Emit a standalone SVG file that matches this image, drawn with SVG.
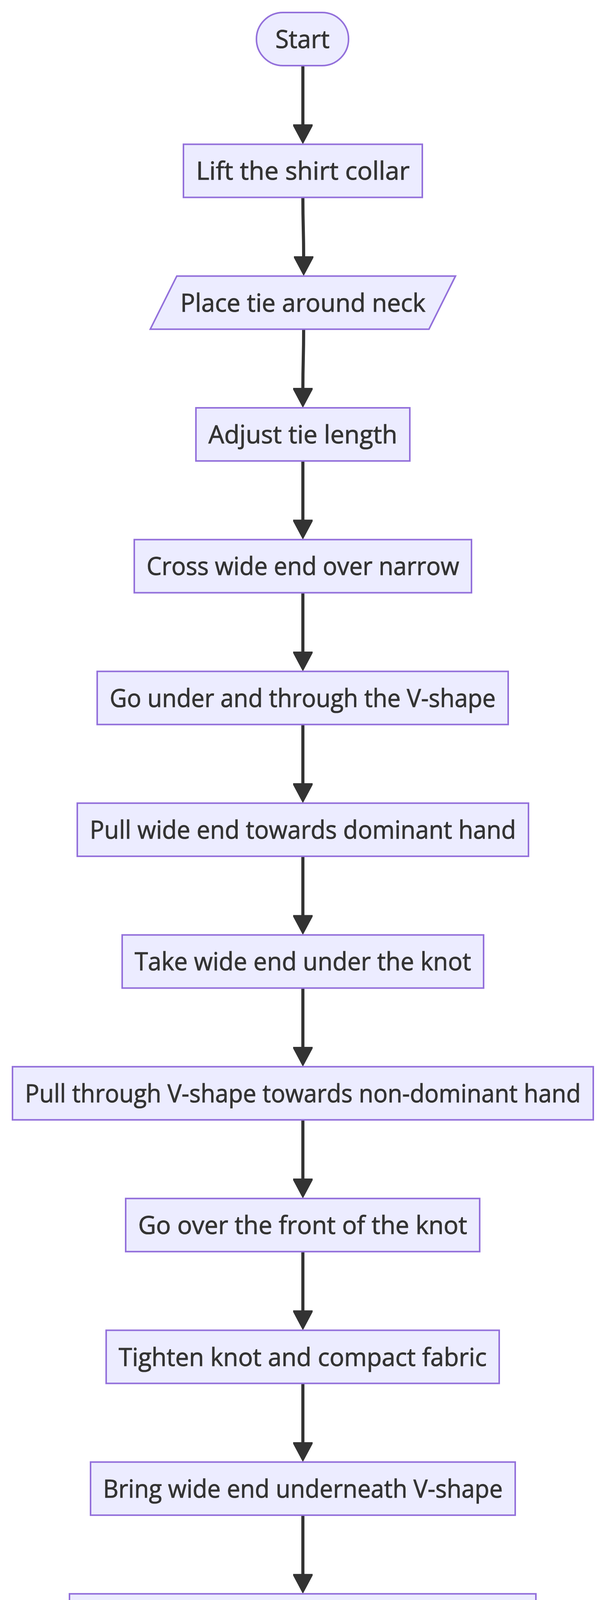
<svg xmlns="http://www.w3.org/2000/svg" width="1568" height="6678" viewBox="0 0 1568 6678">
<style>
.node rect, .node polygon { fill: #ECECFF; stroke: #9370DB; stroke-width: 4; }
.node text { font-family: "Open Sans", "Liberation Sans", sans-serif; font-size: 64px; fill: #333333; stroke: #333333; stroke-width: 1.1; text-anchor: middle; }
.edge { fill: none; stroke: #333333; stroke-width: 8; }
</style>
<defs>
<marker id="arrow" markerUnits="userSpaceOnUse" markerWidth="52" markerHeight="52" viewBox="0 0 50 48" refX="1" refY="24" orient="auto">
<path d="M0,0 L4,0 L49,24 L4,48 L0,48 z" fill="#333333"/>
</marker>
</defs>
<rect x="0" y="0" width="1568" height="6678" fill="#ffffff"/>
<g id="connectors">
<path class="edge" marker-end="url(#arrow)" d="M776,168 L776,319.4"/>
<path class="edge" marker-end="url(#arrow)" d="M776,505.4 C776,585 778,585 778,656.7"/>
<path class="edge" marker-end="url(#arrow)" d="M778,842.7 C778,920 776,920 776,994.05"/>
<path class="edge" marker-end="url(#arrow)" d="M776,1180.05 L776,1331.4"/>
<path class="edge" marker-end="url(#arrow)" d="M776,1517.4 L776,1668.75"/>
<path class="edge" marker-end="url(#arrow)" d="M776,1854.75 L776,2006.1"/>
<path class="edge" marker-end="url(#arrow)" d="M776,2192.1 L776,2343.45"/>
<path class="edge" marker-end="url(#arrow)" d="M776,2529.45 L776,2680.8"/>
<path class="edge" marker-end="url(#arrow)" d="M776,2866.8 L776,3018.15"/>
<path class="edge" marker-end="url(#arrow)" d="M776,3204.15 L776,3355.5"/>
<path class="edge" marker-end="url(#arrow)" d="M776,3541.5 L776,3692.85"/>
<path class="edge" marker-end="url(#arrow)" d="M776,3878.85 L776,4030.2"/>
<path class="edge" marker-end="url(#arrow)" d="M776,4216.2 L776,4367.55"/>
<path class="edge" marker-end="url(#arrow)" d="M776,4553.55 L776,4704.9"/>
<path class="edge" marker-end="url(#arrow)" d="M776,4890.9 L776,5042.25"/>
<path class="edge" marker-end="url(#arrow)" d="M776,5228.25 L776,5379.6"/>
<path class="edge" marker-end="url(#arrow)" d="M776,5565.6 L776,5716.95"/>
<path class="edge" marker-end="url(#arrow)" d="M776,5902.95 C776,5985 778,5985 778,6054.3"/>
<path class="edge" marker-end="url(#arrow)" d="M778,6240.3 C778,6320 776,6320 776,6391.65"/>
</g>
<g id="node-start" class="node">
<rect x="657" y="32" width="236" height="136" rx="68" ry="68"/>
<text x="775" y="123" textLength="139" lengthAdjust="spacingAndGlyphs">Start</text>
</g>
<g id="node-lift" class="node">
<rect x="470" y="369.35" width="612" height="136"/>
<text x="776" y="460.35" textLength="547" lengthAdjust="spacingAndGlyphs">Lift the shirt collar</text>
</g>
<g id="node-place" class="node">
<polygon points="453,706.7 1167,706.7 1099,842.7 385,842.7"/>
<text x="776" y="797.7" textLength="628" lengthAdjust="spacingAndGlyphs">Place tie around neck</text>
</g>
<g id="node-adjust-length" class="node">
<rect x="502" y="1044.05" width="548" height="136"/>
<text x="776" y="1135.05" textLength="484" lengthAdjust="spacingAndGlyphs">Adjust tie length</text>
</g>
<g id="node-cross" class="node">
<rect x="344" y="1381.4" width="864" height="136"/>
<text x="776" y="1472.4" textLength="801" lengthAdjust="spacingAndGlyphs">Cross wide end over narrow</text>
</g>
<g id="node-go-under" class="node">
<rect x="249" y="1718.75" width="1053" height="136"/>
<text x="775.5" y="1809.75" textLength="989" lengthAdjust="spacingAndGlyphs">Go under and through the V-shape</text>
</g>
<g id="node-pull-dominant" class="node">
<rect x="198" y="2056.1" width="1156" height="136"/>
<text x="776" y="2147.1" textLength="1092" lengthAdjust="spacingAndGlyphs">Pull wide end towards dominant hand</text>
</g>
<g id="node-take-under" class="node">
<rect x="313" y="2393.45" width="926" height="136"/>
<text x="776" y="2484.45" textLength="862" lengthAdjust="spacingAndGlyphs">Take wide end under the knot</text>
</g>
<g id="node-pull-nondominant" class="node">
<rect x="32" y="2730.8" width="1488" height="136"/>
<text x="776" y="2821.8" textLength="1424" lengthAdjust="spacingAndGlyphs">Pull through V-shape towards non-dominant hand</text>
</g>
<g id="node-go-over" class="node">
<rect x="322" y="3068.15" width="907" height="136"/>
<text x="775.5" y="3159.15" textLength="843" lengthAdjust="spacingAndGlyphs">Go over the front of the knot</text>
</g>
<g id="node-tighten" class="node">
<rect x="272" y="3405.5" width="1007" height="136"/>
<text x="775.5" y="3496.5" textLength="943" lengthAdjust="spacingAndGlyphs">Tighten knot and compact fabric</text>
</g>
<g id="node-bring" class="node">
<rect x="232" y="3742.85" width="1088" height="136"/>
<text x="776" y="3833.85" textLength="1024" lengthAdjust="spacingAndGlyphs">Bring wide end underneath V-shape</text>
</g>
<g id="node-move" class="node">
<rect x="178" y="4080.2" width="1195" height="136"/>
<text x="775.5" y="4171.2" textLength="1131" lengthAdjust="spacingAndGlyphs">Move wide end up and through to front</text>
</g>
<g id="node-tuck" class="node">
<rect x="263" y="4417.55" width="1025" height="136"/>
<text x="775.5" y="4508.55" textLength="961" lengthAdjust="spacingAndGlyphs">Tuck wide end through front loop</text>
</g>
<g id="node-pull-tighten" class="node">
<rect x="177" y="4754.9" width="1197" height="136"/>
<text x="775.5" y="4845.9" textLength="1133" lengthAdjust="spacingAndGlyphs">Pull wide end through and tighten knot</text>
</g>
<g id="node-hold" class="node">
<rect x="193" y="5092.25" width="1166" height="136"/>
<text x="776" y="5183.25" textLength="1102" lengthAdjust="spacingAndGlyphs">Hold narrow end and knot, pull snugly</text>
</g>
<g id="node-adjust-knot" class="node">
<rect x="189" y="5429.6" width="1174" height="136"/>
<text x="776" y="5520.6" textLength="1110" lengthAdjust="spacingAndGlyphs">Adjust knot for comfort and symmetry</text>
</g>
<g id="node-flip" class="node">
<rect x="513" y="5766.95" width="526" height="136"/>
<text x="776" y="5857.95" textLength="462" lengthAdjust="spacingAndGlyphs">Flip collar down</text>
</g>
<g id="node-complete" class="node">
<polygon points="324,6104.3 1296,6104.3 1228,6240.3 256,6240.3"/>
<text x="776" y="6195.3" textLength="885" lengthAdjust="spacingAndGlyphs">Double Windsor knot complete</text>
</g>
<g id="node-end" class="node">
<rect x="676" y="6441.65" width="200" height="136" rx="68" ry="68"/>
<text x="776" y="6532.65" textLength="104" lengthAdjust="spacingAndGlyphs">End</text>
</g>
</svg>
